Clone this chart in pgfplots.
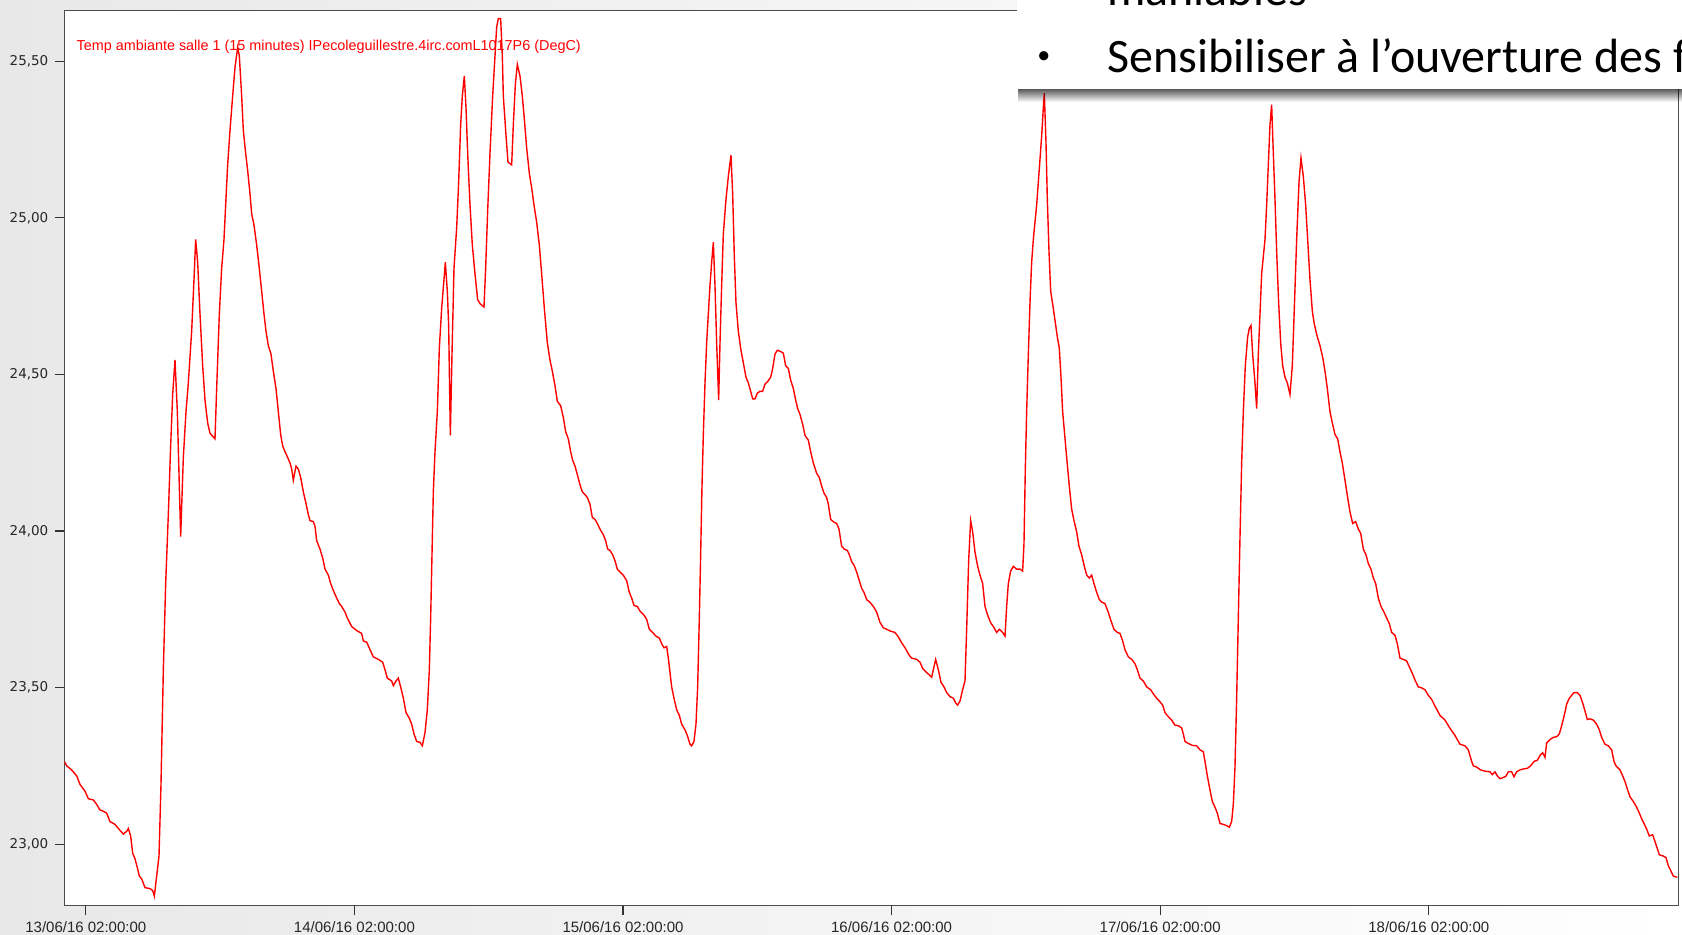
\documentclass[border=0pt]{standalone}
\usepackage{pgfplots}
\pgfplotsset{compat=1.18}
\usepackage{fontspec}
\setmainfont{Liberation Sans}
\newfontfamily\ylabfont{DejaVu Sans}
\newfontfamily\slidefont{Carlito}
\usetikzlibrary{fadings}

% hours since 13/06/16 02:00:00, temperature in degC
\pgfplotstableread{
h T
-1.91 23.264
-1.709 23.25
-1.263 23.237
-0.816 23.218
-0.518 23.191
-0.071 23.169
0.227 23.145
0.673 23.141
0.971 23.127
1.269 23.109
1.567 23.105
1.865 23.099
2.162 23.072
2.609 23.063
3.056 23.044
3.354 23.032
3.652 23.041
3.801 23.05
4.009 23.026
4.188 22.971
4.396 22.953
4.605 22.925
4.783 22.898
4.992 22.889
5.29 22.861
5.736 22.858
5.975 22.852
6.124 22.834
6.332 22.898
6.541 22.962
6.719 23.191
6.928 23.557
7.136 23.832
7.374 24.052
7.583 24.272
7.762 24.436
7.97 24.546
8.179 24.381
8.477 23.982
8.715 24.235
8.953 24.381
9.162 24.473
9.459 24.638
9.668 24.803
9.817 24.931
9.996 24.858
10.204 24.693
10.442 24.528
10.651 24.418
10.889 24.345
11.097 24.312
11.544 24.294
11.693 24.455
11.931 24.693
12.14 24.839
12.348 24.931
12.497 25.041
12.676 25.169
12.884 25.279
13.123 25.389
13.331 25.48
13.569 25.544
13.718 25.517
13.927 25.389
14.076 25.279
14.284 25.206
14.463 25.151
14.671 25.077
14.82 25.013
15.029 24.977
15.267 24.913
15.475 24.848
15.713 24.766
15.922 24.693
16.101 24.638
16.309 24.592
16.547 24.565
16.756 24.51
16.994 24.455
17.203 24.381
17.411 24.308
17.59 24.272
17.798 24.253
18.037 24.235
18.245 24.217
18.394 24.198
18.543 24.162
18.781 24.207
18.99 24.198
19.198 24.171
19.437 24.125
19.675 24.088
19.884 24.052
20.032 24.033
20.33 24.03
20.48 24.015
20.629 23.969
20.927 23.942
21.165 23.914
21.373 23.878
21.671 23.859
21.88 23.832
22.117 23.81
22.415 23.786
22.654 23.768
22.862 23.759
23.16 23.741
23.369 23.722
23.755 23.695
24.202 23.682
24.649 23.673
24.798 23.649
25.096 23.645
25.393 23.621
25.691 23.598
26.138 23.59
26.525 23.581
26.734 23.557
26.942 23.53
27.329 23.521
27.478 23.506
27.717 23.521
27.925 23.53
28.133 23.502
28.372 23.466
28.61 23.42
28.908 23.402
29.116 23.383
29.325 23.352
29.563 23.328
29.861 23.325
30.069 23.314
30.308 23.356
30.516 23.429
30.695 23.557
30.814 23.722
30.933 23.924
31.052 24.125
31.201 24.253
31.41 24.381
31.588 24.583
31.797 24.711
32.005 24.803
32.124 24.858
32.303 24.766
32.422 24.656
32.571 24.305
32.72 24.565
32.899 24.839
33.137 24.968
33.316 25.114
33.494 25.297
33.643 25.389
33.822 25.453
33.971 25.352
34.12 25.206
34.329 25.041
34.537 24.913
34.775 24.821
35.013 24.739
35.222 24.726
35.579 24.715
35.728 24.839
35.907 25.022
36.115 25.206
36.354 25.389
36.562 25.517
36.711 25.609
36.86 25.636
37.068 25.636
37.217 25.517
37.307 25.389
37.515 25.279
37.723 25.178
38.051 25.169
38.2 25.297
38.379 25.425
38.557 25.49
38.795 25.453
39.004 25.389
39.183 25.316
39.391 25.224
39.63 25.142
39.838 25.096
40.047 25.041
40.285 24.986
40.523 24.913
40.732 24.821
40.97 24.711
41.238 24.601
41.476 24.546
41.685 24.51
41.923 24.464
42.131 24.414
42.429 24.4
42.667 24.363
42.876 24.317
43.114 24.294
43.323 24.253
43.501 24.226
43.71 24.207
43.918 24.18
44.157 24.147
44.365 24.125
44.603 24.116
44.812 24.107
45.05 24.085
45.259 24.043
45.497 24.037
45.706 24.024
45.944 24.006
46.242 23.988
46.45 23.969
46.629 23.942
46.837 23.938
47.075 23.924
47.284 23.905
47.492 23.878
47.731 23.869
48.029 23.859
48.327 23.841
48.565 23.804
48.773 23.786
48.982 23.762
49.28 23.759
49.518 23.744
49.875 23.731
50.113 23.718
50.352 23.686
50.649 23.676
50.947 23.664
51.245 23.658
51.454 23.64
51.662 23.627
51.9 23.631
52.049 23.594
52.198 23.548
52.347 23.502
52.556 23.466
52.794 23.429
53.032 23.411
53.241 23.383
53.539 23.365
53.747 23.347
53.985 23.319
54.134 23.314
54.343 23.328
54.521 23.383
54.67 23.502
54.819 23.722
54.938 23.924
55.058 24.143
55.177 24.308
55.326 24.473
55.475 24.601
55.623 24.693
55.772 24.784
55.921 24.858
56.07 24.922
56.219 24.784
56.368 24.601
56.547 24.418
56.666 24.601
56.815 24.784
56.964 24.949
57.202 25.059
57.41 25.132
57.649 25.2
57.798 25.077
57.947 24.876
58.095 24.729
58.304 24.638
58.512 24.583
58.751 24.537
58.989 24.491
59.197 24.473
59.406 24.446
59.585 24.422
59.793 24.422
60.002 24.44
60.24 24.446
60.478 24.446
60.687 24.469
60.925 24.477
61.193 24.491
61.372 24.519
61.58 24.565
61.789 24.577
62.027 24.574
62.325 24.568
62.533 24.528
62.771 24.519
62.98 24.482
63.218 24.455
63.427 24.418
63.605 24.391
63.814 24.372
64.052 24.341
64.261 24.305
64.559 24.29
64.767 24.253
65.005 24.217
65.303 24.184
65.541 24.171
65.75 24.143
65.958 24.121
66.196 24.107
66.345 24.085
66.554 24.037
66.852 24.028
67.09 24.024
67.298 24.006
67.537 23.951
67.775 23.942
68.043 23.938
68.222 23.924
68.43 23.902
68.639 23.891
68.877 23.869
69.115 23.841
69.324 23.817
69.532 23.804
69.77 23.781
70.068 23.772
70.366 23.759
70.664 23.741
70.962 23.708
71.26 23.691
71.558 23.686
71.915 23.68
72.302 23.676
72.6 23.662
72.898 23.643
73.196 23.627
73.583 23.603
73.791 23.594
74.238 23.59
74.536 23.581
74.774 23.561
75.132 23.548
75.578 23.533
75.727 23.557
75.936 23.59
76.174 23.557
76.412 23.517
76.68 23.502
76.919 23.484
77.216 23.471
77.514 23.466
77.723 23.451
77.902 23.444
78.11 23.457
78.348 23.493
78.557 23.521
78.706 23.686
78.884 23.905
79.063 24.033
79.242 23.997
79.45 23.933
79.689 23.887
79.897 23.859
80.135 23.832
80.344 23.759
80.582 23.731
80.85 23.707
81.088 23.695
81.386 23.676
81.624 23.686
81.922 23.676
82.131 23.664
82.28 23.759
82.428 23.832
82.637 23.872
82.875 23.887
83.173 23.878
83.471 23.878
83.709 23.872
83.828 23.96
83.947 24.198
84.066 24.381
84.186 24.528
84.364 24.729
84.513 24.858
84.662 24.931
84.811 24.986
84.96 25.041
85.109 25.114
85.258 25.187
85.407 25.261
85.556 25.352
85.645 25.398
85.794 25.242
85.913 25.059
86.062 24.894
86.211 24.766
86.449 24.711
86.628 24.665
86.807 24.62
86.985 24.583
87.134 24.491
87.283 24.381
87.462 24.308
87.64 24.235
87.879 24.143
88.087 24.07
88.296 24.033
88.534 23.997
88.743 23.951
88.981 23.924
89.219 23.887
89.428 23.859
89.666 23.85
89.874 23.859
90.083 23.832
90.321 23.804
90.559 23.781
90.768 23.773
91.065 23.768
91.363 23.74
91.602 23.713
91.87 23.686
92.167 23.676
92.406 23.673
92.644 23.649
92.853 23.621
93.151 23.598
93.448 23.59
93.746 23.576
93.955 23.557
94.193 23.53
94.491 23.521
94.789 23.502
95.146 23.493
95.384 23.48
95.682 23.466
95.92 23.457
96.218 23.444
96.427 23.42
96.724 23.407
97.022 23.396
97.32 23.38
97.618 23.378
97.916 23.371
98.065 23.352
98.214 23.328
98.422 23.323
98.899 23.315
99.256 23.314
99.554 23.301
99.852 23.295
100.001 23.264
100.209 23.218
100.447 23.173
100.656 23.136
100.894 23.118
101.103 23.099
101.341 23.066
101.639 23.063
101.937 23.059
102.175 23.054
102.383 23.072
102.532 23.127
102.681 23.246
102.83 23.466
102.979 23.722
103.128 23.978
103.277 24.217
103.426 24.381
103.604 24.528
103.813 24.62
103.962 24.647
104.111 24.656
104.26 24.565
104.468 24.473
104.617 24.391
104.766 24.565
104.915 24.693
105.064 24.821
105.213 24.876
105.362 24.931
105.511 25.041
105.66 25.169
105.808 25.297
105.957 25.361
106.106 25.206
106.255 25.059
106.404 24.894
106.583 24.729
106.762 24.601
106.94 24.528
107.149 24.491
107.357 24.473
107.595 24.436
107.804 24.528
107.982 24.711
108.191 24.931
108.4 25.114
108.578 25.191
108.787 25.132
108.995 25.041
109.174 24.931
109.382 24.803
109.591 24.702
109.77 24.66
110.038 24.62
110.276 24.592
110.514 24.555
110.723 24.51
110.931 24.455
111.169 24.381
111.378 24.345
111.616 24.308
111.854 24.294
112.063 24.253
112.271 24.217
112.509 24.162
112.748 24.107
112.956 24.061
113.195 24.024
113.463 24.03
113.701 24.006
113.909 23.993
114.148 23.942
114.386 23.924
114.594 23.896
114.833 23.878
115.041 23.85
115.25 23.832
115.488 23.786
115.726 23.759
115.994 23.741
116.232 23.722
116.471 23.704
116.679 23.676
116.977 23.667
117.186 23.64
117.424 23.594
117.722 23.59
118.02 23.585
118.258 23.566
118.556 23.543
118.764 23.524
119.062 23.502
119.36 23.499
119.658 23.493
119.956 23.475
120.254 23.462
120.462 23.447
120.998 23.411
121.445 23.396
121.891 23.37
122.338 23.347
122.785 23.319
123.232 23.314
123.53 23.301
123.827 23.264
123.976 23.25
124.274 23.246
124.631 23.237
125.019 23.233
125.465 23.231
125.674 23.222
125.912 23.231
126.121 23.218
126.359 23.209
126.657 23.213
126.895 23.217
127.103 23.231
127.401 23.231
127.61 23.215
127.848 23.231
128.146 23.237
128.444 23.24
128.801 23.242
129.099 23.25
129.397 23.264
129.695 23.268
129.933 23.283
130.171 23.292
130.38 23.277
130.529 23.323
130.826 23.334
131.124 23.341
131.422 23.343
131.66 23.352
131.869 23.378
132.077 23.407
132.316 23.447
132.554 23.466
132.763 23.475
132.971 23.484
133.269 23.484
133.507 23.475
133.745 23.451
133.954 23.425
134.162 23.398
134.4 23.4
134.698 23.396
134.996 23.383
135.234 23.365
135.443 23.341
135.74 23.319
136.038 23.314
136.336 23.301
136.545 23.264
136.723 23.25
137.08 23.237
137.319 23.218
137.527 23.2
137.765 23.173
137.974 23.151
138.272 23.136
138.57 23.118
138.808 23.099
139.016 23.081
139.225 23.066
139.463 23.048
139.701 23.026
139.999 23.03
140.207 23.008
140.416 22.986
140.595 22.966
140.952 22.962
141.19 22.957
141.399 22.931
141.607 22.916
141.846 22.898
142.2 22.894
}\temptable

\begin{document}
\begin{tikzpicture}
\begin{scope}
\clip (0,0) rectangle (841pt,467pt);
\shade[left color=black!9, right color=white] (0,0) rectangle (841pt,467pt);
\begin{axis}[
  at={(32.2pt,14.25pt)}, anchor=south west,
  scale only axis, width=807.05pt, height=447.5pt,
  xmin=-1.912, xmax=142.31, ymin=22.804, ymax=25.662,
  axis background/.style={fill=white},
  axis line style={black!70, line width=0.7pt},
  tick pos=left, tick align=outside, major tick length=4.5pt,
  tick style={black!80, line width=0.6pt},
  xtick={0,24,48,72,96,120},
  xticklabels={13/06/16 02:00:00,14/06/16 02:00:00,15/06/16 02:00:00,16/06/16 02:00:00,17/06/16 02:00:00,18/06/16 02:00:00},
  ytick={23,23.5,24,24.5,25,25.5},
  yticklabels={{23,00},{23,50},{24,00},{24,50},{25,00},{25,50}},
  x tick label style={font=\fontsize{7.5}{9}\selectfont, text=black!85},
  y tick label style={font=\ylabfont\fontsize{6.75}{8}\selectfont, text=black!85},
]
\addplot[red, line width=0.7pt] table[x=h, y=T] {\temptable};
\end{axis}
\node[anchor=west, inner sep=0, text=red, font=\fontsize{7.2}{8.5}\selectfont] at (38.1pt,443.5pt) {Temp ambiante salle 1 (15 minutes) IPecoleguillestre.4irc.comL1017P6 (DegC)};
% slide text box overlapping the chart
\fill[black, opacity=0.65, path fading=south] (509pt,416pt) rectangle (845pt,422.5pt);
\fill[white] (508.5pt,422.25pt) rectangle (845pt,470pt);
\node[anchor=base, inner sep=0, font=\slidefont\fontsize{13}{15}\selectfont] at (521.9pt,435.3pt) {•};
\node[anchor=base west, inner sep=0, font=\slidefont\fontsize{24}{28}\selectfont] at (553.5pt,430.5pt) {Sensibiliser à l’ouverture des f};
\node[anchor=base west, inner sep=0, font=\slidefont\fontsize{24}{28}\selectfont] at (553.5pt,464pt) {maniables};
\end{scope}
\pgfresetboundingbox
\path[use as bounding box] (0,0) rectangle (841pt,467pt);
\end{tikzpicture}
\end{document}
